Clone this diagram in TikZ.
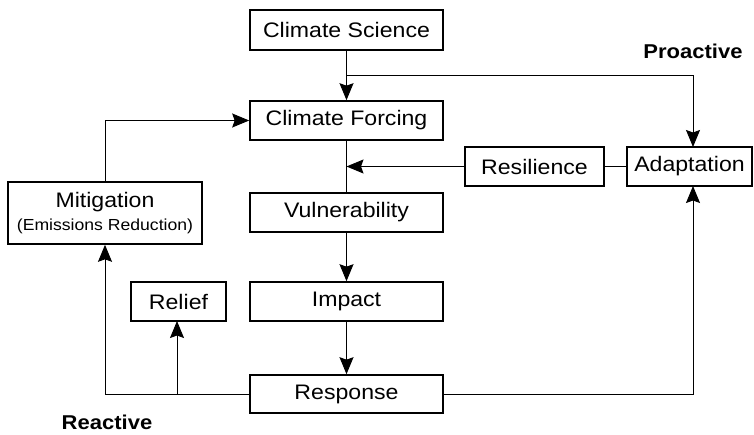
\documentclass[tikz,border=0pt]{standalone}
\usepackage{fontspec}
\setmainfont[FakeStretch=1.1]{Liberation Sans}
\usetikzlibrary{arrows.meta,calc}
\begin{document}
\begin{tikzpicture}[x=1pt,y=-1pt,
  box/.style={draw,line width=1.6pt,inner sep=0pt,align=center,font=\fontsize{21}{25}\selectfont},
  conn/.style={line width=0.9pt},
  arr/.style={conn,-{Stealth[length=17pt,width=14pt,inset=2.5pt]}},
  lbl/.style={font=\fontsize{20}{24}\selectfont\bfseries,inner sep=0pt}]
\useasboundingbox[fill=white] (0,0) rectangle (754,435);
\node[box,minimum width=193pt,minimum height=40pt] (sci) at (346.5,30) {Climate Science};
\node[box,minimum width=193pt,minimum height=39pt] (forc) at (346.5,120.5) {Climate Forcing};
\node[box,minimum width=193pt,minimum height=39pt] (vul) at (346.5,212.5) {Vulnerability};
\node[box,minimum width=193pt,minimum height=39pt] (imp) at (346.5,301.5) {Impact};
\node[box,minimum width=193pt,minimum height=38pt] (resp) at (346.5,394) {Response};
\node[box,minimum width=139pt,minimum height=39pt] (res) at (534.5,166.5) {Resilience};
\node[box,minimum width=125pt,minimum height=39pt] (ada) at (689.5,166.5) {Adaptation};
\node[box,minimum width=194pt,minimum height=62pt] (mit) at (105,213) {Mitigation\\[-2pt]{\fontsize{16}{18}\selectfont (Emissions Reduction)}};
\node[box,minimum width=95pt,minimum height=39pt] (rel) at (178.5,301.5) {Relief};
\node[lbl] (pro) at (693,51) {Proactive};
\node[lbl] (rea) at (107,422) {Reactive};
% helper coordinates
\coordinate (j1) at (346.5,75);
\coordinate (adaTop) at (693,147);
\coordinate (adaBot) at (693,186);
\coordinate (relb) at (177,394);
\coordinate (relTop) at (177,321);
\coordinate (resTip) at (346.5,166.5);
% connectors
\draw[arr] (sci.south) -- (forc.north);
\draw[arr] (j1) -| (adaTop);
\draw[conn] (forc.south) -- (vul.north);
\draw[arr] (res.west) -- (resTip);
\draw[conn] (res.east) -- (ada.west);
\draw[arr] (vul.south) -- (imp.north);
\draw[arr] (imp.south) -- (resp.north);
\draw[arr] (resp.east) -| (adaBot);
\draw[arr] (resp.west) -| (mit.south);
\draw[arr] (relb) -- (relTop);
\draw[arr] (mit.north) |- (forc.west);
\end{tikzpicture}
\end{document}
